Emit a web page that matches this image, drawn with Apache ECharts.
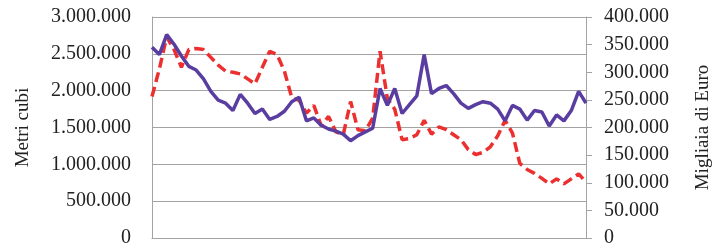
<!DOCTYPE html>
<html>
<head>
<meta charset="utf-8">
<script src="https://cdn.jsdelivr.net/npm/echarts@6/dist/echarts.min.js"></script>
<style>
  html, body { margin: 0; padding: 0; background: #fff; }
  #chart { width: 722px; height: 248px; }
</style>
</head>
<body>
<div id="chart"></div>
<script>
// volumi mensili (metri cubi) - asse sinistro
const metriCubi = [
  2590000, 2490000, 2760000, 2630000, 2470000, 2330000, 2280000, 2160000, 1990000, 1870000,
  1830000, 1730000, 1950000, 1830000, 1690000, 1750000, 1610000, 1650000, 1720000, 1850000,
  1910000, 1590000, 1630000, 1530000, 1480000, 1450000, 1410000, 1320000, 1390000, 1440000,
  1490000, 2030000, 1800000, 2030000, 1690000, 1810000, 1930000, 2490000, 1960000, 2030000,
  2070000, 1960000, 1830000, 1760000, 1810000, 1850000, 1830000, 1750000, 1590000, 1800000,
  1750000, 1600000, 1730000, 1710000, 1520000, 1670000, 1590000, 1730000, 1990000, 1830000
]
// valori mensili (migliaia di euro) - asse destro
const migliaiaEuro = [
  256000, 306000, 364000, 341000, 309000, 341000, 343000, 341000, 327000, 313000,
  302000, 300000, 297000, 288000, 279000, 309000, 338000, 332000, 302000, 254000,
  249000, 226000, 240000, 203000, 220000, 192000, 187000, 247000, 196000, 194000,
  217000, 338000, 252000, 233000, 178000, 180000, 187000, 213000, 188000, 201000,
  196000, 187000, 178000, 160000, 151000, 155000, 165000, 185000, 213000, 190000,
  135000, 124000, 117000, 108000, 98000, 107000, 98000, 107000, 116000, 101000
]
const mesi = metriCubi.map((v, i) => String(i + 1))

const leftTicks = { min: 0, max: 3000000, interval: 500000 }
const rightTicks = { min: 0, max: 400000, interval: 50000 }

function fmt(v) {
  return String(v).replace(/\B(?=(\d{3})+(?!\d))/g, '.')
}

const font = 'Liberation Serif'
const gray = '#a3a3a3'

const chart = echarts.init(document.getElementById('chart'))
chart.setOption({
  animation: false,
  grid: { left: 152, right: 136, top: 17, bottom: 6 },
  xAxis: {
    type: 'category',
    data: mesi,
    boundaryGap: false,
    axisLine: { lineStyle: { color: gray, width: 1 } },
    axisTick: { show: false },
    axisLabel: { show: false }
  },
  yAxis: [
    {
      type: 'value',
      position: 'left',
      min: leftTicks.min,
      max: leftTicks.max,
      interval: leftTicks.interval,
      name: 'Metri cubi',
      nameLocation: 'middle',
      nameRotate: 90,
      nameGap: 119,
      nameTextStyle: { fontFamily: font, fontSize: 19, color: '#222' },
      axisLine: { show: true, lineStyle: { color: gray } },
      axisTick: { show: false },
      axisLabel: { fontFamily: font, fontSize: 20, color: '#222', margin: 21, formatter: fmt },
      splitLine: { lineStyle: { color: gray, width: 1 } }
    },
    {
      type: 'value',
      position: 'right',
      min: rightTicks.min,
      max: rightTicks.max,
      interval: rightTicks.interval,
      name: 'Migliaia di Euro',
      nameLocation: 'middle',
      nameRotate: 90,
      nameGap: 108,
      nameTextStyle: { fontFamily: font, fontSize: 19, color: '#222' },
      axisLine: { show: true, lineStyle: { color: gray } },
      axisTick: { show: true, inside: false, length: 6, lineStyle: { color: gray } },
      axisLabel: { fontFamily: font, fontSize: 20, color: '#222', margin: 18, formatter: fmt },
      splitLine: { show: false }
    }
  ],
  series: [
    {
      name: 'Metri cubi',
      type: 'line',
      yAxisIndex: 0,
      data: metriCubi,
      symbol: 'none',
      lineStyle: { color: '#5a3da0', width: 3.5 },
      z: 3
    },
    {
      name: 'Migliaia di Euro',
      type: 'line',
      yAxisIndex: 1,
      data: migliaiaEuro,
      symbol: 'none',
      lineStyle: { color: '#ec2f2f', width: 3.5, type: [10, 5] },
      z: 2
    }
  ]
})
</script>
</body>
</html>
